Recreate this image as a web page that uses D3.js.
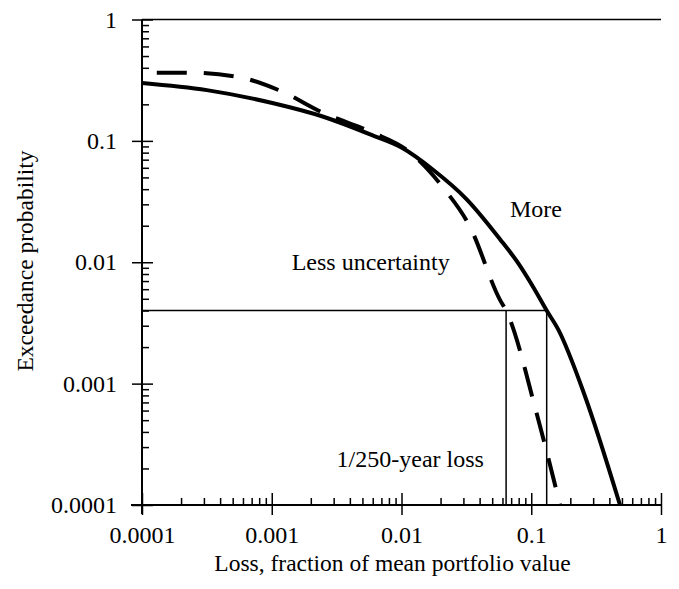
<!DOCTYPE html>
<html>
<head>
<meta charset="utf-8">
<script src="https://cdn.jsdelivr.net/npm/d3@7"></script>
<style>
  html, body { margin: 0; padding: 0; background: #fff; }
  svg { display: block; }
  text { font-family: "Liberation Serif", "Times New Roman", serif; fill: #000; }
</style>
</head>
<body>
<script>
// ---- Data ----
const xMajorTicks = [0.0001, 0.001, 0.01, 0.1, 1];
const xTickLabels = ["0.0001", "0.001", "0.01", "0.1", "1"];
const yMajorTicks = [0.0001, 0.001, 0.01, 0.1, 1];
const yTickLabels = ["0.0001", "0.001", "0.01", "0.1", "1"];

// "More" uncertainty (solid)
const moreLoss = [0.0001, 0.000316, 0.00103, 0.0025, 0.0061, 0.0100, 0.0176, 0.0318, 0.0574, 0.080, 0.104, 0.1315, 0.162, 0.255, 0.483];
const moreProb = [0.30, 0.262, 0.204, 0.158, 0.110, 0.088, 0.0575, 0.0330, 0.0155, 0.0097, 0.0062, 0.0040, 0.00277, 0.00083, 0.0001];

// "Less" uncertainty (dashed)
const lessLoss = [0.00013, 0.00022, 0.00052, 0.00115, 0.0025, 0.0060, 0.0110, 0.0210, 0.0337, 0.0574, 0.064, 0.110, 0.1667];
const lessProb = [0.365, 0.365, 0.34, 0.26, 0.17, 0.117, 0.084, 0.041, 0.0196, 0.0049, 0.0040, 0.00057, 0.0001];

// 1/250-year reference
const refProb = 0.004;
const refLossLess = 0.064;
const refLossMore = 0.1315;

const labels = [
  { text: "More", x: 0.0686, y: 0.0238 },
  { text: "Less uncertainty", x: 0.001425, y: 0.00864 },
  { text: "1/250-year loss", x: 0.00316, y: 0.000207 }
];

// ---- Layout ----
const W = 679, H = 589;
const margin = { left: 142, top: 19.5, right: 18, bottom: 84 };
const iw = W - margin.left - margin.right;
const ih = H - margin.top - margin.bottom;

const svg = d3.select("body").append("svg").attr("width", W).attr("height", H);
const g = svg.append("g").attr("transform", `translate(${margin.left},${margin.top})`);

const x = d3.scaleLog().domain([0.0001, 1]).range([0, iw]);
const y = d3.scaleLog().domain([0.0001, 1]).range([ih, 0]);

function minors(lo, hi) {
  const out = [];
  for (let d = lo; d < hi; d *= 10) for (let k = 2; k <= 9; k++) out.push(+(d * k).toPrecision(3));
  return out;
}
const xMinor = minors(0.0001, 1);
const yMinor = minors(0.0001, 1);

const FS = 24;
const FONT = '"Liberation Serif", "Times New Roman", serif';

// top border
g.append("line").attr("x1", 0).attr("x2", iw).attr("y1", 0).attr("y2", 0)
  .attr("stroke", "#000").attr("stroke-width", 1.5);

// X axis: minor inward
g.append("g").attr("transform", `translate(0,${ih})`)
  .call(d3.axisBottom(x).tickValues(xMinor).tickSize(-7).tickFormat(""))
  .call(s => s.select(".domain").remove())
  .call(s => s.selectAll("line").attr("stroke-width", 1.5));
// X axis major inward part
g.append("g").attr("transform", `translate(0,${ih})`)
  .call(d3.axisBottom(x).tickValues(xMajorTicks).tickSize(-12).tickFormat(""))
  .call(s => s.select(".domain").remove())
  .call(s => s.selectAll("line").attr("stroke-width", 1.5));
// X axis major outward with labels
const xAx = g.append("g").attr("transform", `translate(0,${ih})`)
  .call(d3.axisBottom(x).tickValues(xMajorTicks).tickSize(10).tickSizeOuter(0)
    .tickFormat((d, i) => xTickLabels[i]));
xAx.attr("font-family", FONT).attr("font-size", FS);
xAx.select(".domain").attr("stroke-width", 2).attr("d", `M${-11},0H${iw}`);
xAx.selectAll("line").attr("stroke-width", 1.5);
xAx.selectAll("text").attr("y", 38).attr("dy", 0)
  .style("font-family", FONT).style("font-size", FS + "px").attr("fill", "#000");

// Y axis minor inward
g.append("g")
  .call(d3.axisLeft(y).tickValues(yMinor).tickSize(-7).tickFormat(""))
  .call(s => s.select(".domain").remove())
  .call(s => s.selectAll("line").attr("stroke-width", 1.5));
g.append("g")
  .call(d3.axisLeft(y).tickValues(yMajorTicks).tickSize(-11).tickFormat(""))
  .call(s => s.select(".domain").remove())
  .call(s => s.selectAll("line").attr("stroke-width", 1.5));
const yAx = g.append("g")
  .call(d3.axisLeft(y).tickValues(yMajorTicks).tickSize(10).tickSizeOuter(0)
    .tickFormat((d, i) => yTickLabels[i]));
yAx.attr("font-family", FONT).attr("font-size", FS);
yAx.select(".domain").attr("stroke-width", 2).attr("d", `M0,0V${ih + 9}`);
yAx.selectAll("line").attr("stroke-width", 1.5);
yAx.selectAll("text").attr("x", -25).attr("dy", "0.32em")
  .style("font-family", FONT).style("font-size", FS + "px").attr("fill", "#000");

// reference lines
const refG = g.append("g").attr("stroke", "#000").attr("stroke-width", 1.5).attr("fill", "none");
refG.append("line").attr("x1", x(0.0001)).attr("x2", x(refLossMore)).attr("y1", y(refProb)).attr("y2", y(refProb));
refG.append("line").attr("x1", x(refLossLess)).attr("x2", x(refLossLess)).attr("y1", y(refProb)).attr("y2", y(0.0001));
refG.append("line").attr("x1", x(refLossMore)).attr("x2", x(refLossMore)).attr("y1", y(refProb)).attr("y2", y(0.0001));

// curves
const line = d3.line().x(d => x(d[0])).y(d => y(d[1])).curve(d3.curveMonotoneX);
g.append("path").datum(moreLoss.map((v, i) => [v, moreProb[i]]))
  .attr("d", line).attr("fill", "none").attr("stroke", "#000").attr("stroke-width", 4);
g.append("path").datum(lessLoss.map((v, i) => [v, lessProb[i]]))
  .attr("d", line).attr("fill", "none").attr("stroke", "#000").attr("stroke-width", 4)
  .attr("stroke-dasharray", "30,17");

// annotations
g.selectAll("text.ann").data(labels).enter().append("text").attr("class", "ann")
  .attr("x", d => x(d.x)).attr("y", d => y(d.y))
  .style("font-family", FONT).style("font-size", FS + "px").text(d => d.text);

// axis titles
svg.append("text").attr("x", 392.5).attr("y", 571).attr("text-anchor", "middle")
  .style("font-family", FONT).style("font-size", "23.5px").text("Loss, fraction of mean portfolio value");
svg.append("text").attr("transform", "translate(33,261) rotate(-90)").attr("text-anchor", "middle")
  .style("font-family", FONT).style("font-size", "23.5px").text("Exceedance probability");
</script>
</body>
</html>
